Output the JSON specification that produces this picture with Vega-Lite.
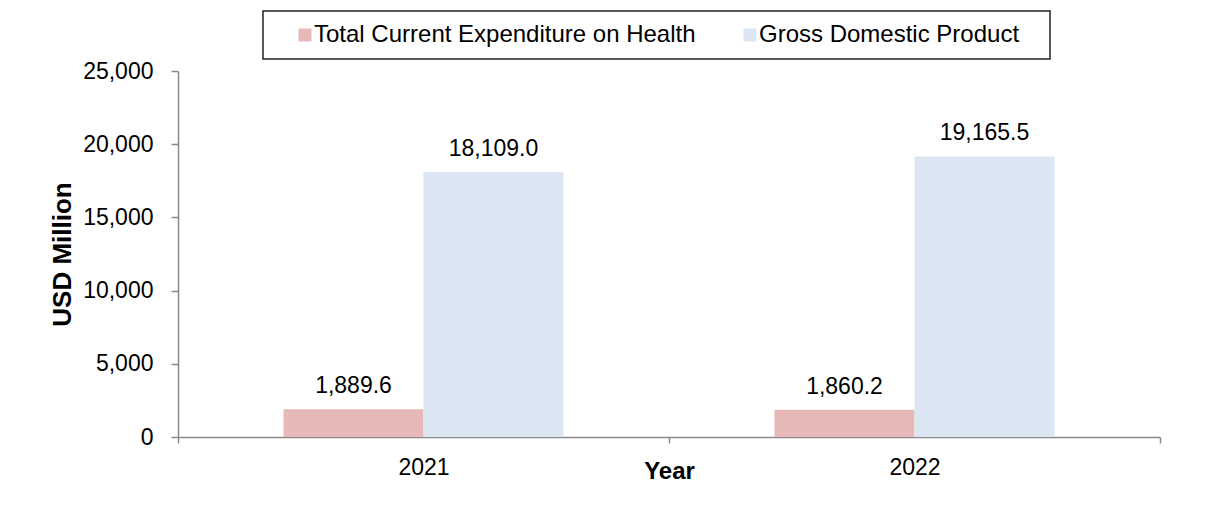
{
  "$schema": "https://vega.github.io/schema/vega-lite/v6.json",
  "autosize": {"type": "none"},
  "padding": {"left": 178, "top": 71, "right": 52, "bottom": 83},
  "width": 982,
  "height": 366,
  "background": "white",
  "config": {
    "view": {"stroke": null},
    "font": "Liberation Sans, Arial, sans-serif",
    "axis": {
      "domainColor": "#8a8a8a",
      "tickColor": "#8a8a8a",
      "domainWidth": 1.5,
      "tickWidth": 1.5,
      "labelColor": "#000",
      "titleColor": "#000",
      "labelFontSize": 23,
      "labelFont": "Liberation Sans",
      "titleFont": "Liberation Sans",
      "titleFontSize": 24,
      "titleFontWeight": "bold",
      "grid": false
    }
  },
  "data": {
    "values": [
      {"year": "2021", "series": "Total Current Expenditure on Health", "value": 1889.6},
      {"year": "2021", "series": "Gross Domestic Product", "value": 18109.0},
      {"year": "2022", "series": "Total Current Expenditure on Health", "value": 1860.2},
      {"year": "2022", "series": "Gross Domestic Product", "value": 19165.5}
    ]
  },
  "encoding": {
    "x": {
      "field": "year",
      "type": "nominal",
      "scale": {"paddingInner": 0, "paddingOuter": 0},
      "axis": {
        "title": "Year",
        "labelAngle": 0,
        "tickBand": "extent",
        "tickSize": 6,
        "labelPadding": 13,
        "titleY": 41,
        "titleBaseline": "alphabetic",
        "titleAnchor": "middle"
      }
    },
    "xOffset": {
      "field": "series",
      "type": "nominal",
      "sort": ["Total Current Expenditure on Health", "Gross Domestic Product"],
      "scale": {"paddingInner": 0, "paddingOuter": 0.754}
    },
    "y": {
      "field": "value",
      "type": "quantitative",
      "scale": {"domain": [0, 25000], "nice": false},
      "axis": {
        "title": "USD Million",
        "titleFontSize": 26,
        "values": [0, 5000, 10000, 15000, 20000, 25000],
        "format": ",.0f",
        "tickSize": 7,
        "labelPadding": 18,
        "titlePadding": 7
      }
    }
  },
  "layer": [
    {
      "mark": {"type": "bar"},
      "encoding": {
        "color": {
          "field": "series",
          "type": "nominal",
          "sort": ["Total Current Expenditure on Health", "Gross Domestic Product"],
          "scale": {
            "domain": ["Total Current Expenditure on Health", "Gross Domestic Product"],
            "range": ["#E6B9B8", "#DCE6F2"]
          },
          "legend": {
            "title": null,
            "orient": "none",
            "legendX": 85,
            "legendY": -60,
            "direction": "horizontal",
            "symbolType": "square",
            "symbolSize": 169,
            "symbolStrokeWidth": 0,
            "symbolOffset": 18,
            "labelFontSize": 24,
            "labelFont": "Liberation Sans",
            "labelColor": "#000",
            "labelOffset": -3,
            "columnPadding": 24,
            "padding": 12,
            "strokeColor": "#222",
            "labelLimit": 700,
            "labelExpr": "datum.value == 'Gross Domestic Product' ? datum.label + '\u2800' : datum.label",
            "encode": {"legend": {"update": {"strokeWidth": {"value": 1.5}}}}
          }
        }
      }
    },
    {
      "mark": {"type": "text", "baseline": "alphabetic", "dy": -16, "fontSize": 23, "font": "Liberation Sans", "color": "#000"},
      "encoding": {
        "text": {"field": "value", "type": "quantitative", "format": ",.1f"}
      }
    }
  ]
}
